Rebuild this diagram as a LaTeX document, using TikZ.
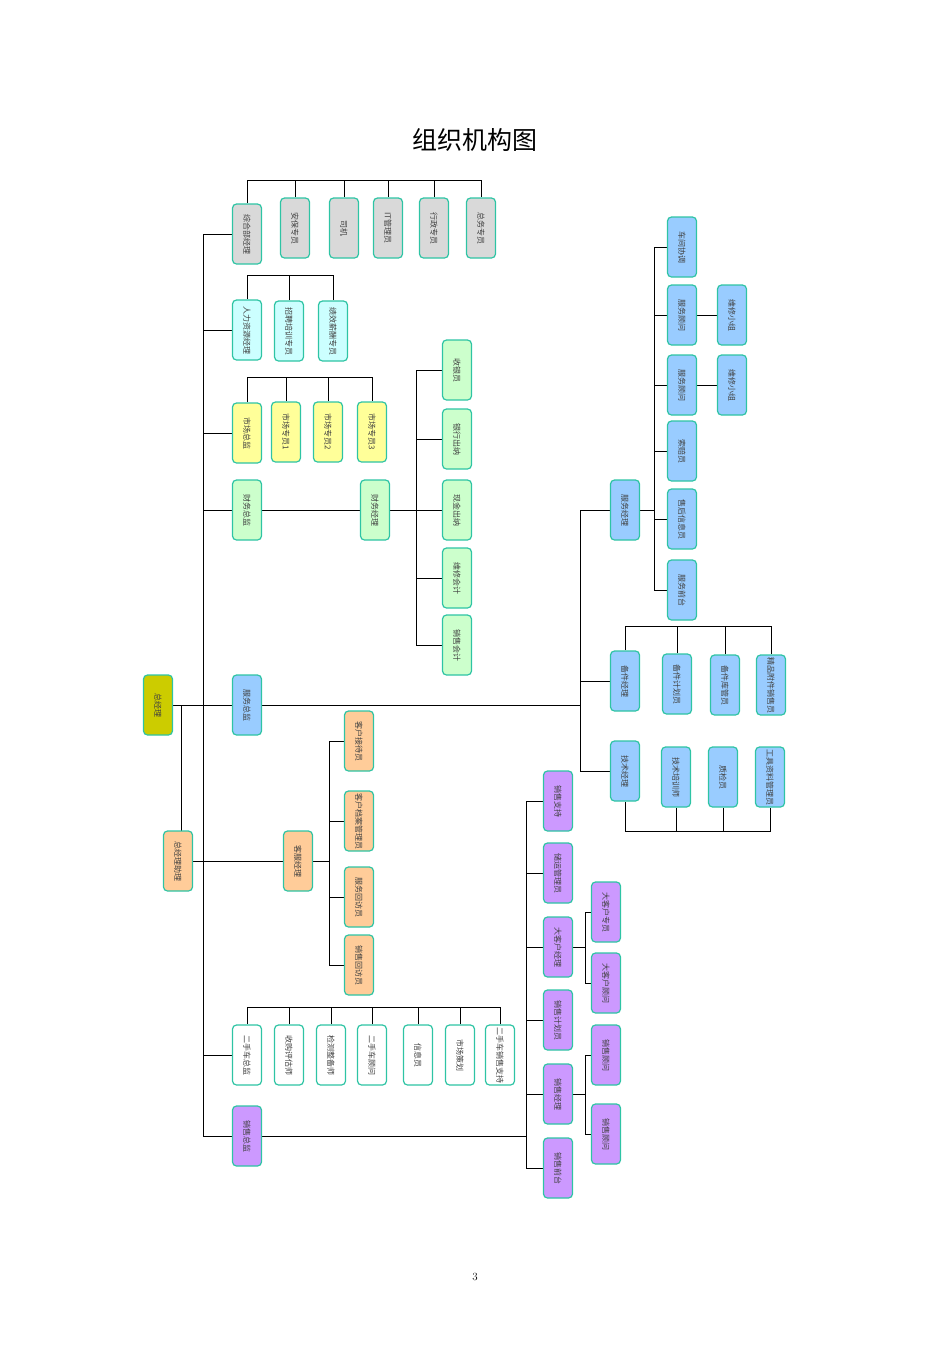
\documentclass[tikz,border=0pt]{standalone}
\usepackage{fontspec}
\newfontfamily\cjk{Noto Sans CJK SC}
\usetikzlibrary{backgrounds}
\definecolor{linec}{HTML}{2EC4A4}
\definecolor{cgray}{HTML}{D9D9D9}
\definecolor{ccyan}{HTML}{CCFFFF}
\definecolor{cyel}{HTML}{FFFF99}
\definecolor{cgreen}{HTML}{CCFFCC}
\definecolor{colive}{HTML}{CCCC00}
\definecolor{cblue}{HTML}{99CCFF}
\definecolor{corange}{HTML}{FFCC99}
\definecolor{cpurple}{HTML}{CC99FF}
\begin{document}
\begin{tikzpicture}[x=1pt,y=-1pt]

    \tikzset{
      box/.style={
        draw=linec,
        line width=1.2pt,
        rounded corners=4pt,
        rotate=-90,
        minimum width=60pt,
        minimum height=29pt,
        inner sep=1pt,
        font=\cjk\fontsize{8}{9}\selectfont,
        text=black!75,
      },
      link/.style={draw=linec,line width=1.1pt},
    }
    \useasboundingbox (0,0) rectangle (950,1345);
    \node[font=\cjk\fontsize{25}{28}\selectfont] (title) at (475,140) {组织机构图};
    \node[font=\fontsize{11}{12}\selectfont] (page) at (475,1277) {3};

    % top office row
    \node[box,fill=cgray] (zhb) at (247,234) {综合部经理};
    \node[box,fill=cgray] (ab) at (295,228) {安保专员};
    \node[box,fill=cgray] (sj) at (344,228) {司机};
    \node[box,fill=cgray] (it) at (388,228) {IT管理员};
    \node[box,fill=cgray] (xz) at (434,228) {行政专员};
    \node[box,fill=cgray] (zw) at (481,228) {总务专员};
    \coordinate (zbus) at (247,180);

    \node[box,fill=ccyan] (rl) at (247,330) {人力资源经理};
    \node[box,fill=ccyan] (zp) at (289,331) {招聘培训专员};
    \node[box,fill=ccyan] (jx) at (333,331) {绩效薪酬专员};
    \coordinate (rbus) at (247,275);

    \node[box,fill=cyel] (sc) at (247,433) {市场总监};
    \node[box,fill=cyel] (sc1) at (286,432) {市场专员1};
    \node[box,fill=cyel] (sc2) at (328,432) {市场专员2};
    \node[box,fill=cyel] (sc3) at (372,432) {市场专员3};
    \coordinate (sbus) at (247,377);

    % finance
    \node[box,fill=cgreen] (cwz) at (247,510) {财务总监};
    \node[box,fill=cgreen] (cwj) at (375,510) {财务经理};
    \node[box,fill=cgreen] (sy) at (457,370) {收银员};
    \node[box,fill=cgreen] (yh) at (457,439) {银行出纳};
    \node[box,fill=cgreen] (xj) at (457,510) {现金出纳};
    \node[box,fill=cgreen] (wx) at (457,578) {维修会计};
    \node[box,fill=cgreen] (xk) at (457,645) {销售会计};

    % head
    \node[box,fill=colive] (zjl) at (158,705) {总经理};
    \node[box,fill=corange] (zl) at (178,861) {总经理助理};
    \node[box,fill=cblue] (fwz) at (247,705) {服务总监};

    % customer service
    \node[box,fill=corange] (kf) at (298,861) {客服经理};
    \node[box,fill=corange] (kj) at (359,741) {客户接待员};
    \node[box,fill=corange] (kd) at (359,821) {客户档案管理员};
    \node[box,fill=corange] (fh) at (359,897) {服务回访员};
    \node[box,fill=corange] (xh) at (359,965) {销售回访员};

    % service
    \node[box,fill=cblue] (fwj) at (625,510) {服务经理};
    \node[box,fill=cblue] (cj) at (682,247) {车间协调};
    \node[box,fill=cblue] (gw1) at (682,315) {服务顾问};
    \node[box,fill=cblue] (gw2) at (682,385) {服务顾问};
    \node[box,fill=cblue] (sp) at (682,451) {索赔员};
    \node[box,fill=cblue] (sh) at (682,519) {售后信息员};
    \node[box,fill=cblue] (qt) at (682,590) {服务前台};
    \node[box,fill=cblue] (xz1) at (732,315) {维修小组};
    \node[box,fill=cblue] (xz2) at (732,385) {维修小组};
    \node[box,fill=cblue] (bj) at (625,681) {备件经理};
    \node[box,fill=cblue] (bjj) at (677,684) {备件计划员};
    \node[box,fill=cblue] (bjk) at (725,685) {备件库管员};
    \node[box,fill=cblue] (jp) at (771,685) {精品附件销售员};
    \coordinate (bbus) at (625,626);
    \node[box,fill=cblue] (js) at (625,771) {技术经理};
    \node[box,fill=cblue] (jpx) at (676,777) {技术培训师};
    \node[box,fill=cblue] (zj) at (723,777) {质检员};
    \node[box,fill=cblue] (gj) at (770,777) {工具资料管理员};
    \coordinate (jbus) at (625,831);

    % used cars
    \node[box,fill=white] (es) at (247,1055) {二手车总监};
    \node[box,fill=white] (sg) at (289,1055) {收购评估师};
    \node[box,fill=white] (jc) at (331,1055) {检测整备师};
    \node[box,fill=white] (eg) at (372,1055) {二手车顾问};
    \node[box,fill=white] (xx) at (418,1055) {信息员};
    \node[box,fill=white] (ch) at (460,1055) {市场策划};
    \node[box,fill=white] (ez) at (500,1055) {二手车销售支持};
    \coordinate (ebus) at (247,1007);

    % sales
    \node[box,fill=cpurple] (xsz) at (247,1136) {销售总监};
    \node[box,fill=cpurple] (xzc) at (558,801) {销售支持};
    \node[box,fill=cpurple] (cy) at (558,873) {储运管理员};
    \node[box,fill=cpurple] (dkj) at (558,947) {大客户经理};
    \node[box,fill=cpurple] (jh) at (558,1020) {销售计划员};
    \node[box,fill=cpurple] (xsj) at (558,1094) {销售经理};
    \node[box,fill=cpurple] (xqt) at (558,1168) {销售前台};
    \node[box,fill=cpurple] (dkz) at (606,912) {大客户专员};
    \node[box,fill=cpurple] (dkg) at (606,983) {大客户顾问};
    \node[box,fill=cpurple] (xg1) at (606,1055) {销售顾问};
    \node[box,fill=cpurple] (xg2) at (606,1134) {销售顾问};

    \begin{scope}[on background layer,link]
      % main trunk
      \draw (zhb) -- (203,234) -- (203,1136) -- (xsz);
      \foreach \n in {rl,sc,cwz,fwz,es}
        \draw (\n) -- (203,0 |- \n);
      \draw (zjl) -- (fwz) -- (580,705);
      \draw (zjl) -| (181,861) -- (zl);
      \draw (zl) -- (kf);
      % top buses
      \draw (zhb) -- (zbus) -| (zw);
      \foreach \n in {ab,sj,it,xz}
        \draw (\n) -- (\n |- zbus);
      \draw (rl) -- (rbus) -| (jx);
      \draw (zp) -- (zp |- rbus);
      \draw (sc) -- (sbus) -| (sc3);
      \foreach \n in {sc1,sc2}
        \draw (\n) -- (\n |- sbus);
      \draw (ez) -- (ez |- ebus) -| (es);
      \foreach \n in {sg,jc,eg,xx,ch}
        \draw (\n) -- (\n |- ebus);
      % finance
      \draw (cwz) -- (cwj) -- (xj);
      \draw (sy) -| (416,645) -- (xk);
      \foreach \n in {yh,wx}
        \draw (\n) -- (416,0 |- \n);
      % customer service
      \draw (kf) -- (329,861);
      \draw (kj) -| (329,965) -- (xh);
      \foreach \n in {kd,fh}
        \draw (\n) -- (329,0 |- \n);
      % service
      \draw (fwj) -| (580,771) -- (js);
      \draw (bj) -- (580,681);
      \draw (fwj) -- (654,510);
      \draw (cj) -| (654,590) -- (qt);
      \foreach \n in {gw1,gw2,sp,sh}
        \draw (\n) -- (654,0 |- \n);
      \draw (gw1) -- (xz1);
      \draw (gw2) -- (xz2);
      \draw (bj) -- (bbus) -| (jp);
      \foreach \n in {bjj,bjk}
        \draw (\n) -- (\n |- bbus);
      \draw (js) -- (jbus) -| (gj);
      \foreach \n in {jpx,zj}
        \draw (\n) -- (\n |- jbus);
      % sales
      \draw (xsz) -- (526,1136);
      \draw (xzc) -| (526,1168) -- (xqt);
      \foreach \n in {cy,dkj,jh,xsj}
        \draw (\n) -- (526,0 |- \n);
      \draw (dkz) -| (585,983) -- (dkg);
      \draw (dkj) -- (585,947);
      \draw (xg1) -| (585,1134) -- (xg2);
      \draw (xsj) -- (585,1094);
    \end{scope}

\end{tikzpicture}
\end{document}
